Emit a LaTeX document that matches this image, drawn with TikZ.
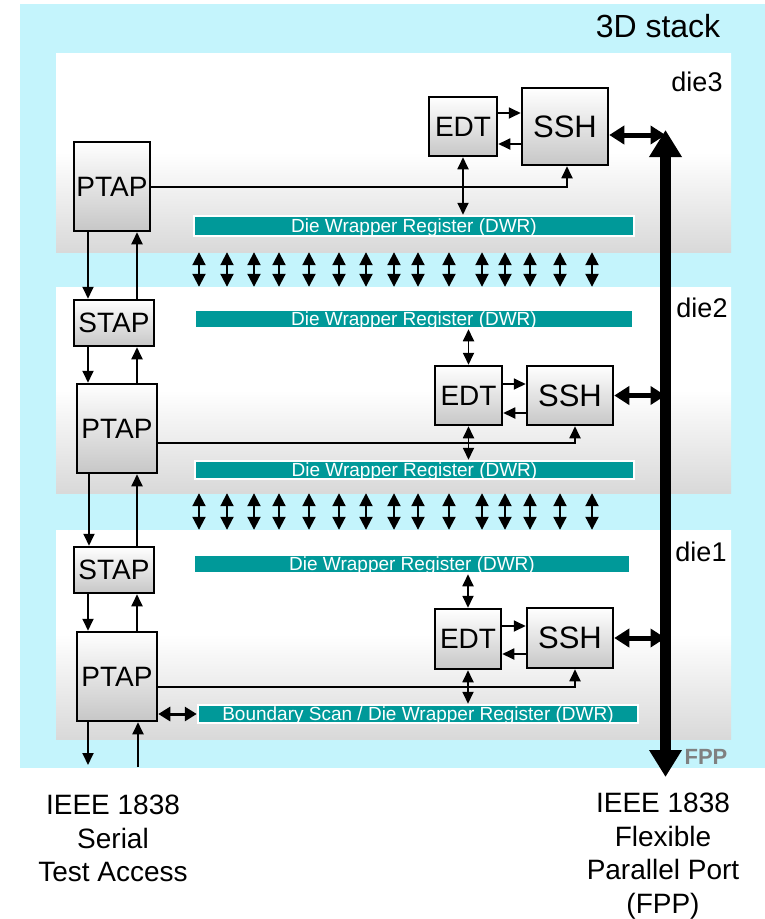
\documentclass[tikz,border=0pt]{standalone}
\usepackage{fontspec}
\setmainfont{Liberation Sans}
\usetikzlibrary{arrows.meta}
\definecolor{stackcyan}{RGB}{196,244,252}
\definecolor{dwrteal}{RGB}{0,153,153}
\definecolor{fppgray}{RGB}{128,128,128}

\begin{document}
\begin{tikzpicture}[x=1pt, y=-1pt,
    die/.style={minimum width=675pt, inner sep=0pt, top color=white, bottom color=black!15, middle color=white},
    tapbox/.style={draw, line width=2.5pt, top color=white, bottom color=black!22, inner sep=0pt, font=\fontsize{28}{28}\selectfont},
    sshbox/.style={tapbox, font=\fontsize{31}{31}\selectfont},
    dwr/.style={draw=white, line width=2.5pt, fill=dwrteal, text=white, inner sep=0pt, text depth=0pt, font=\fontsize{19}{19}\selectfont},
    arr/.style={-{Triangle[width=11pt,length=12pt]}, line width=1.8pt},
    dbl/.style={{Triangle[width=11pt,length=12pt]}-{Triangle[width=11pt,length=12pt]}, line width=1.8pt},
    tsv/.style={{Triangle[width=13pt,length=13pt]}-{Triangle[width=13pt,length=13pt]}, line width=2pt},
    fat/.style={{Triangle[width=18pt,length=15pt]}-{Triangle[width=18pt,length=15pt]}, line width=5pt},
    bsarr/.style={{Triangle[width=14pt,length=12pt]}-{Triangle[width=14pt,length=12pt]}, line width=3pt},
    fppline/.style={{Triangle[width=31pt,length=27pt]}-{Triangle[width=31pt,length=27pt]}, line width=11pt},
    lbl/.style={font=\fontsize{27}{27}\selectfont, inner sep=0pt}
  ]
    \useasboundingbox (0,0) rectangle (765,919);
    \fill[stackcyan] (20,4) rectangle (765,768);
    \node[font=\fontsize{32}{32}\selectfont, inner sep=0pt] (stacklbl) at (658,26) {3D stack};

    % dies
    \node[die, minimum height=199pt] (die3) at (393.5,152.5) {};
    \node[die, minimum height=206pt] (die2) at (393.5,390) {};
    \node[die, minimum height=209pt] (die1) at (393.5,634.5) {};
    \node[lbl] (die3lbl) at (697,82) {die3};
    \node[lbl] (die2lbl) at (702,308) {die2};
    \node[lbl] (die1lbl) at (701,552) {die1};

    % die3
    \node[tapbox, minimum width=76pt, minimum height=89pt] (ptap3) at (112,186.5) {PTAP};
    \node[tapbox, minimum width=68pt, minimum height=59pt] (edt3) at (463,126.5) {EDT};
    \node[sshbox, minimum width=86pt, minimum height=77pt] (ssh3) at (565,126.5) {SSH};
    \node[dwr, minimum width=440pt, minimum height=20pt] (dwr3) at (414,226) {Die Wrapper Register (DWR)};

    % die2
    \node[tapbox, minimum width=80pt, minimum height=46pt] (stap2) at (114,323) {STAP};
    \node[dwr, minimum width=438pt, minimum height=18pt] (dwr2a) at (414,319) {Die Wrapper Register (DWR)};
    \node[tapbox, minimum width=67pt, minimum height=59pt] (edt2) at (468.5,395.5) {EDT};
    \node[sshbox, minimum width=86pt, minimum height=59pt] (ssh2) at (570,395.5) {SSH};
    \node[tapbox, minimum width=80pt, minimum height=89pt] (ptap2) at (117,428.5) {PTAP};
    \node[dwr, minimum width=439pt, minimum height=18pt] (dwr2b) at (414.5,470) {Die Wrapper Register (DWR)};

    % die1
    \node[tapbox, minimum width=80pt, minimum height=46pt] (stap1) at (114,570) {STAP};
    \node[dwr, minimum width=436pt, minimum height=18pt] (dwr1a) at (412,564) {Die Wrapper Register (DWR)};
    \node[tapbox, minimum width=66pt, minimum height=60pt] (edt1) at (468,639) {EDT};
    \node[sshbox, minimum width=86pt, minimum height=60pt] (ssh1) at (570,638) {SSH};
    \node[tapbox, minimum width=80pt, minimum height=89pt] (ptap1) at (117,676.5) {PTAP};
    \node[dwr, minimum width=440pt, minimum height=18pt] (bs1) at (418,714) {Boundary Scan / Die Wrapper Register (DWR)};

    % through-silicon vias
    \foreach \x in {199,227,254,279,309,339,366,394,418,449,482,505,530,560,592} {
      \draw[tsv] (die3.south -| \x,0) -- (die2.north -| \x,0);
      \draw[tsv] (die2.south -| \x,0) -- (die1.north -| \x,0);
    }

    % serial test access chain
    \draw[arr] (ptap3.south -| 88,0) -- (stap2.north -| 88,0);
    \draw[arr] (stap2.north -| 137,0) -- (ptap3.south -| 137,0);
    \draw[arr] (stap2.south -| 88,0) -- (ptap2.north -| 88,0);
    \draw[arr] (ptap2.north -| 137,0) -- (stap2.south -| 137,0);
    \draw[arr] (ptap2.south -| 89,0) -- (stap1.north -| 89,0);
    \draw[arr] (stap1.north -| 137,0) -- (ptap2.south -| 137,0);
    \draw[arr] (stap1.south -| 88,0) -- (ptap1.north -| 88,0);
    \draw[arr] (ptap1.north -| 137,0) -- (stap1.south -| 137,0);
    \coordinate (tdo) at (88,765);
    \coordinate (tdi) at (138,767);
    \draw[arr] (ptap1.south -| tdo) -- (tdo);
    \draw[arr] (tdi) -- (ptap1.south -| tdi);

    % flexible parallel port
    \coordinate (fpp) at (665.5,130);
    \coordinate (fppend) at (665.5,777);
    \draw[fppline] (fppend) -- (fpp);
    \node[font=\bfseries\fontsize{22}{22}\selectfont, text=fppgray, inner sep=0pt] (fpplbl) at (706,757) {FPP};

    % die3 links
    \draw[arr] (edt3.east |- 0,113) -- (ssh3.west |- 0,113);
    \draw[arr] (ssh3.west |- 0,144) -- (edt3.east |- 0,144);
    \draw[dbl] (edt3.south) -- (edt3.south |- dwr3.north);
    \draw[arr] (ptap3.east |- 0,187) -| (ssh3.south -| 567,0);
    \draw[fat] (ssh3.east |- 0,135) -- (fpp |- 0,135);

    % die2 links
    \draw[arr] (edt2.east |- 0,384) -- (ssh2.west |- 0,384);
    \draw[arr] (ssh2.west |- 0,413) -- (edt2.east |- 0,413);
    \draw[dbl] (dwr2a.south -| edt2) -- (edt2.north);
    \draw[dbl] (edt2.south) -- (edt2.south |- dwr2b.north);
    \draw[arr] (ptap2.east |- 0,443) -| (ssh2.south -| 575,0);
    \draw[fat] (ssh2.east) -- (ssh2.east -| fpp);

    % die1 links
    \draw[arr] (edt1.east |- 0,626) -- (ssh1.west |- 0,626);
    \draw[arr] (ssh1.west |- 0,654) -- (edt1.east |- 0,654);
    \draw[dbl] (dwr1a.south -| edt1) -- (edt1.north);
    \draw[dbl] (edt1.south) -- (edt1.south |- bs1.north);
    \draw[arr] (ptap1.east |- 0,687) -| (ssh1.south -| 575,0);
    \draw[fat] (ssh1.east) -- (ssh1.east -| fpp);
    \draw[bsarr] (ptap1.east |- bs1.west) -- (bs1.west);

    % access ports
    \node[font=\fontsize{28}{33.5}\selectfont, align=center, anchor=north, inner sep=0pt] (serial) at (113,795) {IEEE 1838\\Serial\\Test Access};
    \node[font=\fontsize{28}{33.5}\selectfont, align=center, anchor=north, inner sep=0pt] (flex) at (663,793) {IEEE 1838\\Flexible\\Parallel Port\\(FPP)};
  \end{tikzpicture}
\end{document}
